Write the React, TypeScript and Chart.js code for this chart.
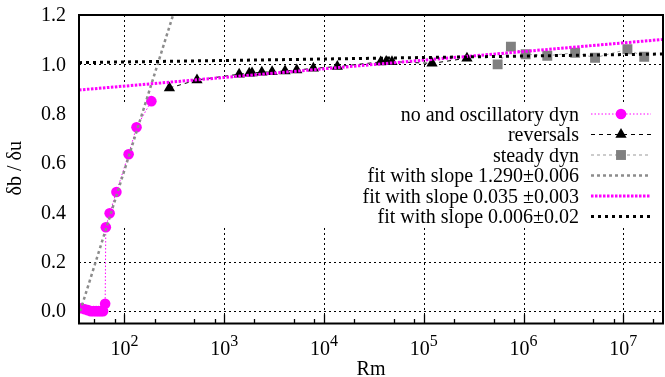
import React, { useEffect, useRef } from "react";
import { Chart, registerables } from "chart.js";
Chart.register(...registerables);

// ---------- data ----------
const oscRm = [37, 40, 43, 46, 49, 52, 55, 58, 61, 64, 65, 71, 83, 110, 132, 186];
const oscDelta = [0.012, 0.008, 0.004, 0.0, 0.0, 0.0, 0.0, 0.0, 0.0, 0.03, 0.34, 0.397, 0.483, 0.636, 0.745, 0.851];

const revRm = [282, 533, 1410, 1780, 1900, 2380, 3020, 4070, 5330, 7820, 13600, 37000, 42000, 48000, 121000, 271000];
const revDelta = [0.904, 0.937, 0.96, 0.964, 0.965, 0.968, 0.97, 0.973, 0.977, 0.984, 0.991, 1.01, 1.012, 1.011, 1.004, 1.025];

const steadyRm = [550000, 747000, 1050000, 1730000, 3290000, 5210000, 11000000, 16200000];
const steadyDelta = [1.0, 1.072, 1.041, 1.035, 1.047, 1.027, 1.061, 1.031];

const fitSteepRm = [36, 320];
const fitSteepDelta = [0.0, 1.223];
const fitMidRm = [35, 25000000];
const fitMidDelta = [0.896, 1.101];
const fitFlatRm = [35, 25000000];
const fitFlatDelta = [1.007, 1.042];

const seriesLabels = [
  "no and oscillatory dyn",
  "reversals",
  "steady dyn",
  "fit with slope 1.290\u00b10.006",
  "fit with slope 0.035 \u00b10.003",
  "fit with slope 0.006\u00b10.02",
];

const yTickValues = [0, 0.2, 0.4, 0.6, 0.8, 1.0, 1.2];
const xTickExponents = [2, 3, 4, 5, 6, 7];
const xMinorMultiples = [2, 5, 8];
const keyBoxRange = [0.337, 0.844]; // y-range hidden behind the opaque key

const X_MIN = 35;
const X_MAX = 2.5e7;
const Y_MIN = -0.05;
const Y_MAX = 1.2;

const FONT = "'Liberation Serif', 'Times New Roman', serif";

const pts = (xs: number[], ys: number[]) => xs.map((x, i) => ({ x, y: ys[i] }));

function drawMarker(ctx: CanvasRenderingContext2D, style: string, x: number, y: number, r: number, color: string) {
  ctx.save();
  ctx.setLineDash([]);
  ctx.fillStyle = color;
  ctx.beginPath();
  if (style === "circle") {
    ctx.arc(x, y, r, 0, Math.PI * 2);
  } else if (style === "triangle") {
    ctx.moveTo(x, y - r);
    ctx.lineTo(x + 0.866 * r, y + 0.5 * r);
    ctx.lineTo(x - 0.866 * r, y + 0.5 * r);
    ctx.closePath();
  } else if (style === "rect") {
    const s = r * Math.SQRT1_2;
    ctx.rect(x - s, y - s, 2 * s, 2 * s);
  }
  ctx.fill();
  ctx.restore();
}

const decor = {
  id: "decor",
  beforeDatasetsDraw(chart: any) {
    const { ctx, chartArea: a, scales } = chart;
    const xs = scales.x;
    const ys = scales.y;
    ctx.save();
    ctx.strokeStyle = "#000";
    ctx.lineWidth = 1;
    ctx.setLineDash([2, 3]);
    const gTop = ys.getPixelForValue(keyBoxRange[1]);
    const gBot = ys.getPixelForValue(keyBoxRange[0]);
    for (const e of xTickExponents) {
      const px = Math.round(xs.getPixelForValue(Math.pow(10, e))) + 0.5;
      ctx.beginPath();
      ctx.moveTo(px, a.top);
      ctx.lineTo(px, gTop);
      ctx.moveTo(px, gBot);
      ctx.lineTo(px, a.bottom);
      ctx.stroke();
    }
    for (const v of yTickValues) {
      if (v > keyBoxRange[0] && v < keyBoxRange[1]) continue;
      if (v >= Y_MAX) continue;
      const py = Math.round(ys.getPixelForValue(v)) + 0.5;
      ctx.beginPath();
      ctx.moveTo(a.left, py);
      ctx.lineTo(a.right, py);
      ctx.stroke();
    }
    ctx.restore();
  },
  afterDatasetsDraw(chart: any) {
    const { ctx, chartArea: a, scales } = chart;
    const xs = scales.x;
    const ys = scales.y;
    ctx.save();
    ctx.setLineDash([]);
    // border
    ctx.strokeStyle = "#000";
    ctx.lineWidth = 2;
    ctx.strokeRect(a.left, a.top, a.right - a.left, a.bottom - a.top);

    // x ticks (bottom, inward)
    ctx.lineWidth = 1.3;
    const lo = Math.floor(Math.log10(X_MIN));
    const hi = Math.ceil(Math.log10(X_MAX));
    for (let e = lo; e <= hi; e++) {
      for (const m of xMinorMultiples) {
        const v = m * Math.pow(10, e);
        if (v < X_MIN || v > X_MAX) continue;
        const px = Math.round(xs.getPixelForValue(v)) + 0.5;
        ctx.beginPath();
        ctx.moveTo(px, a.bottom);
        ctx.lineTo(px, a.bottom - 4.5);
        ctx.stroke();
      }
    }
    for (const e of xTickExponents) {
      const px = Math.round(xs.getPixelForValue(Math.pow(10, e))) + 0.5;
      ctx.beginPath();
      ctx.moveTo(px, a.bottom);
      ctx.lineTo(px, a.bottom - 9);
      ctx.stroke();
    }

    // y tick labels
    ctx.fillStyle = "#000";
    ctx.font = `20px ${FONT}`;
    ctx.textAlign = "right";
    ctx.textBaseline = "middle";
    for (const v of yTickValues) {
      ctx.fillText(v.toFixed(1), a.left - 13, ys.getPixelForValue(v) + 1);
    }

    // x tick labels 10^n
    for (const e of xTickExponents) {
      const px = xs.getPixelForValue(Math.pow(10, e));
      ctx.font = `20px ${FONT}`;
      const wBase = ctx.measureText("10").width;
      ctx.font = `16px ${FONT}`;
      const wExp = ctx.measureText(String(e)).width;
      const left = px - (wBase + wExp) / 2;
      ctx.textAlign = "left";
      ctx.textBaseline = "alphabetic";
      ctx.font = `20px ${FONT}`;
      ctx.fillText("10", left, a.bottom + 31);
      ctx.font = `16px ${FONT}`;
      ctx.fillText(String(e), left + wBase, a.bottom + 22);
    }

    // axis titles
    ctx.font = `20px ${FONT}`;
    ctx.textAlign = "center";
    ctx.textBaseline = "alphabetic";
    ctx.fillText("Rm", (a.left + a.right) / 2, a.bottom + 51);
    ctx.save();
    ctx.translate(16, (a.top + a.bottom) / 2 - 1);
    ctx.rotate(-Math.PI / 2);
    ctx.textBaseline = "middle";
    ctx.fillText("\u03b4b / \u03b4u", 0, 0);
    ctx.restore();

    // legend
    const textRight = a.right - 84;
    const lineStart = a.right - 72;
    const lineEnd = a.right - 12;
    const rowY0 = a.top + 99;
    const rowStep = 20.5;
    chart.data.datasets.forEach((ds: any, i: number) => {
      const y = rowY0 + i * rowStep;
      ctx.font = `20px ${FONT}`;
      ctx.fillStyle = "#000";
      ctx.textAlign = "right";
      ctx.textBaseline = "alphabetic";
      ctx.fillText(ds.label, textRight, y + 6.5);
      ctx.save();
      ctx.strokeStyle = ds.borderColor;
      ctx.lineWidth = ds.borderWidth;
      ctx.setLineDash(ds.borderDash || []);
      ctx.beginPath();
      ctx.moveTo(lineStart, y);
      ctx.lineTo(lineEnd, y);
      ctx.stroke();
      ctx.restore();
      if (ds.pointRadius > 0) {
        drawMarker(ctx, ds.pointStyle, (lineStart + lineEnd) / 2, y, ds.pointRadius, ds.pointBackgroundColor);
      }
    });
    ctx.restore();
  },
};

export default function App() {
  const ref = useRef<HTMLCanvasElement>(null);
  useEffect(() => {
    const chart = new Chart(ref.current!, {
      type: "scatter",
      data: {
        datasets: [
          {
            label: seriesLabels[0],
            data: pts(oscRm, oscDelta),
            showLine: true,
            borderColor: "#ff00ff",
            borderWidth: 1,
            borderDash: [1.5, 2],
            pointStyle: "circle",
            pointRadius: 5.3,
            pointBorderWidth: 0,
            pointBackgroundColor: "#ff00ff",
            order: 10,
          },
          {
            label: seriesLabels[1],
            data: pts(revRm, revDelta),
            showLine: true,
            borderColor: "#000000",
            borderWidth: 1,
            borderDash: [4, 4],
            pointStyle: "triangle",
            pointRadius: 6.5,
            pointBorderWidth: 0,
            pointBackgroundColor: "#000000",
            order: 9,
          },
          {
            label: seriesLabels[2],
            data: pts(steadyRm, steadyDelta),
            showLine: true,
            borderColor: "#999999",
            borderWidth: 1,
            borderDash: [3, 3],
            pointStyle: "rect",
            pointRadius: 7,
            pointBorderWidth: 0,
            pointBackgroundColor: "#808080",
            order: 8,
          },
          {
            label: seriesLabels[3],
            data: pts(fitSteepRm, fitSteepDelta),
            showLine: true,
            borderColor: "#8c8c8c",
            borderWidth: 2.5,
            borderDash: [3, 3],
            pointRadius: 0,
            order: 3,
          },
          {
            label: seriesLabels[4],
            data: pts(fitMidRm, fitMidDelta),
            showLine: true,
            borderColor: "#ff00ff",
            borderWidth: 3,
            borderDash: [2.5, 1.5],
            pointRadius: 0,
            order: 2,
          },
          {
            label: seriesLabels[5],
            data: pts(fitFlatRm, fitFlatDelta),
            showLine: true,
            borderColor: "#000000",
            borderWidth: 3,
            borderDash: [3, 4],
            pointRadius: 0,
            order: 1,
          },
        ],
      },
      options: {
        animation: false,
        responsive: false,
        devicePixelRatio: 1,
        layout: { padding: { left: 79, top: 15, right: 3, bottom: 53.5 } },
        scales: {
          x: { type: "logarithmic", min: X_MIN, max: X_MAX, display: false },
          y: { type: "linear", min: Y_MIN, max: Y_MAX, display: false },
        },
        plugins: {
          legend: { display: false },
          tooltip: { enabled: false },
        },
        events: [],
      },
      plugins: [decor],
    });
    return () => chart.destroy();
  }, []);
  return (
    <div style={{ position: "fixed", left: 0, top: 0, width: 670, height: 377, background: "#fff" }}>
      <canvas ref={ref} width={670} height={377} style={{ display: "block" }} />
    </div>
  );
}
